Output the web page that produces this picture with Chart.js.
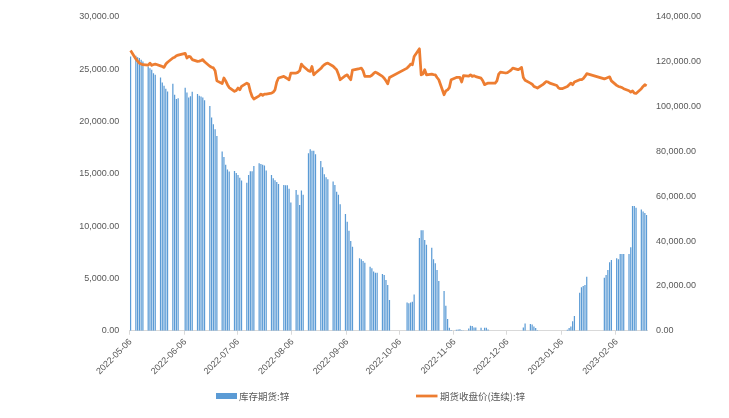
<!DOCTYPE html>
<html lang="zh">
<head>
<meta charset="UTF-8">
<title>库存期货:锌 / 期货收盘价(连续):锌</title>
<script src="https://cdn.jsdelivr.net/npm/chart.js"></script>
<style>
  body { margin: 0; background: #fff; }
  #wrap { width: 729px; height: 418px; position: relative; }
</style>
</head>
<body>
<div id="wrap"><canvas id="chart"></canvas></div>
<script>
// trading days (one week per line)
const dates = [
  '2022-05-06',
  '2022-05-09','2022-05-10','2022-05-11','2022-05-12','2022-05-13',
  '2022-05-16','2022-05-17','2022-05-18','2022-05-19','2022-05-20',
  '2022-05-23','2022-05-24','2022-05-25','2022-05-26','2022-05-27',
  '2022-05-30','2022-05-31','2022-06-01','2022-06-02',
  '2022-06-06','2022-06-07','2022-06-08','2022-06-09','2022-06-10',
  '2022-06-13','2022-06-14','2022-06-15','2022-06-16','2022-06-17',
  '2022-06-20','2022-06-21','2022-06-22','2022-06-23','2022-06-24',
  '2022-06-27','2022-06-28','2022-06-29','2022-06-30','2022-07-01',
  '2022-07-04','2022-07-05','2022-07-06','2022-07-07','2022-07-08',
  '2022-07-11','2022-07-12','2022-07-13','2022-07-14','2022-07-15',
  '2022-07-18','2022-07-19','2022-07-20','2022-07-21','2022-07-22',
  '2022-07-25','2022-07-26','2022-07-27','2022-07-28','2022-07-29',
  '2022-08-01','2022-08-02','2022-08-03','2022-08-04','2022-08-05',
  '2022-08-08','2022-08-09','2022-08-10','2022-08-11','2022-08-12',
  '2022-08-15','2022-08-16','2022-08-17','2022-08-18','2022-08-19',
  '2022-08-22','2022-08-23','2022-08-24','2022-08-25','2022-08-26',
  '2022-08-29','2022-08-30','2022-08-31','2022-09-01','2022-09-02',
  '2022-09-05','2022-09-06','2022-09-07','2022-09-08','2022-09-09',
  '2022-09-13','2022-09-14','2022-09-15','2022-09-16',
  '2022-09-19','2022-09-20','2022-09-21','2022-09-22','2022-09-23',
  '2022-09-26','2022-09-27','2022-09-28','2022-09-29','2022-09-30',
  '2022-10-10','2022-10-11','2022-10-12','2022-10-13','2022-10-14',
  '2022-10-17','2022-10-18','2022-10-19','2022-10-20','2022-10-21',
  '2022-10-24','2022-10-25','2022-10-26','2022-10-27','2022-10-28',
  '2022-10-31','2022-11-01','2022-11-02','2022-11-03','2022-11-04',
  '2022-11-07','2022-11-08','2022-11-09','2022-11-10','2022-11-11',
  '2022-11-14','2022-11-15','2022-11-16','2022-11-17','2022-11-18',
  '2022-11-21','2022-11-22','2022-11-23','2022-11-24','2022-11-25',
  '2022-11-28','2022-11-29','2022-11-30','2022-12-01','2022-12-02',
  '2022-12-05','2022-12-06','2022-12-07','2022-12-08','2022-12-09',
  '2022-12-12','2022-12-13','2022-12-14','2022-12-15','2022-12-16',
  '2022-12-19','2022-12-20','2022-12-21','2022-12-22','2022-12-23',
  '2022-12-26','2022-12-27','2022-12-28','2022-12-29','2022-12-30',
  '2023-01-03','2023-01-04','2023-01-05','2023-01-06',
  '2023-01-09','2023-01-10','2023-01-11','2023-01-12','2023-01-13',
  '2023-01-16','2023-01-17','2023-01-18','2023-01-19','2023-01-20',
  '2023-01-30','2023-01-31','2023-02-01','2023-02-02','2023-02-03',
  '2023-02-06','2023-02-07','2023-02-08','2023-02-09','2023-02-10',
  '2023-02-13','2023-02-14','2023-02-15','2023-02-16','2023-02-17',
  '2023-02-20','2023-02-21','2023-02-22','2023-02-23'
];

// 库存期货:锌 (left axis)
const stock = [
  26220,
  26290, 26150, 26070, 25900, 25740,
  25260, 25100, 24950, 24630, 24470,
  24210, 23730, 23420, 23130, 22870,
  23610, 22560, 22150, 22240,
  23230, 22780, 22300, 22420, 22840,
  22630, 22460, 22390, 22310, 22030,
  21500, 20380, 19750, 19270, 18630,
  17130, 16620, 15860, 15420, 15220,
  15270, 15090, 14900, 14630, 14370,
  14160, 14900, 15250, 15250, 15760,
  16020, 15950, 15860, 15790, 15310,
  14900, 14580, 14390, 14210, 14020,
  13940, 13900, 13900, 13580, 12250,
  13460, 12990, 12030, 13400, 12990,
  16980, 17360, 17200, 17200, 16880,
  16240, 15640, 14970, 14680, 14490,
  14260, 13940, 13300, 12990, 12100,
  11170, 10430, 9570, 8580, 8040,
  6930, 6830, 6670, 6510,
  6120, 5970, 5650, 5550, 5550,
  5430, 5330, 4850, 4370, 2930,
  2700, 2620, 2700, 2780, 3450,
  8870, 9600, 9600, 8680, 8230,
  7940, 6830, 6450, 5810, 4760,
  3800, 2390, 1120, 290, 70,
  100, 120, 130, 50, 30,
  200, 480, 450, 300, 300,
  280, 50, 280, 280, 120,
  0, 0, 0, 0, 0,
  0, 0, 0, 0, 0,
  0, 0, 0, 300, 700,
  650, 600, 400, 250, 50,
  0, 0, 0, 0, 0,
  0, 0, 0, 0,
  100, 250, 400, 900, 1400,
  3640, 4150, 4280, 4370, 5170,
  5070, 5330, 5810, 6550, 6770,
  6930, 6830, 7340, 7340, 7340,
  7340, 7980, 11930, 11930, 11770,
  11580, 11390, 11260, 11070
];

// 期货收盘价(连续):锌 (right axis)
const price = [
  125000,
  121300, 120300, 119400, 119000, 118700,
  118500, 119400, 118400, 118800, 119000,
  118200, 117900, 117500, 119000, 119800,
  121700, 122000, 122700, 123000,
  123800, 121700, 122400, 122200, 121000,
  120200, 120300, 120600, 121000, 120000,
  118000, 117600, 117300, 116000, 111500,
  110300, 112800, 111500, 109800, 108500,
  106800, 107200, 108300, 107500, 109000,
  110500, 110000, 106800, 104500, 103400,
  104800, 105600, 105000, 105600, 105600,
  106000, 106500, 107500, 111000, 112800,
  113500, 113000, 112500, 112000, 115000,
  115000, 115300, 116000, 119000, 118000,
  116000, 115700, 117900, 114200, 115000,
  117000, 118000, 118700, 119200, 119400,
  118000, 117200, 116500, 114500, 112000,
  113800, 114200, 113000, 112000, 116300,
  117000, 117200, 116000, 113500,
  113500, 114000, 114800, 115400, 115000,
  113500, 112700, 111500, 110200, 113000,
  117200, 118000, 119000, 118700, 122400,
  125800, 114200, 114600, 116500, 114200,
  114500, 114300, 114200, 113000, 112000,
  105300, 107000, 107500, 108500, 112000,
  113000, 113000, 113000, 111000, 113800,
  113600, 114200, 113500, 113800, 113400,
  112700, 111500, 109800, 110200, 110500,
  110500, 110500, 111500, 114500, 115400,
  115000, 115200, 115700, 116300, 117200,
  116500, 116900, 117500, 113000, 111800,
  110500, 110000, 109000, 108700, 108300,
  109800, 110500, 111200, 111000, 110500,
  109400, 108300, 108000, 108000,
  109000, 109800, 110500, 109800, 111000,
  112000, 112000, 112500, 113500, 114700,
  112400, 112700, 113000, 113300, 111500,
  109500, 109000, 108800, 108500, 108000,
  107100, 106500, 107000, 106000, 105900,
  108000, 109000, 109800, 109300
];

const leftTicks = [0, 30000, 5000];     // min, max, step
const rightTicks = [0, 140000, 20000];

const barColor = '#5B9BD5';
const lineColor = '#ED7D31';
const textColor = '#595959';
const axisColor = '#D9D9D9';

// calendar axis: every day from first to last trading day
const days = [];
for (let t = Date.parse(dates[0]); t <= Date.parse(dates[dates.length - 1]); t += 86400000) {
  days.push(new Date(t).toISOString().slice(0, 10));
}
const isMonthTick = i => typeof days[i] === 'string' && days[i].endsWith('-06');
const fmt = v => Number(v).toLocaleString('en-US', { minimumFractionDigits: 2, maximumFractionDigits: 2 });

Chart.defaults.font.family = '"Liberation Sans", Arial, sans-serif';
Chart.defaults.font.size = 9;
Chart.defaults.color = textColor;

const bottomLegend = {
  id: 'bottomLegend',
  afterDraw(chart) {
    const c = chart.ctx;
    const y = 396;
    c.save();
    c.font = '9.5px "Noto Sans CJK SC", sans-serif';
    c.textBaseline = 'middle';
    c.fillStyle = barColor;
    c.fillRect(216, y - 3, 21, 6);
    c.fillStyle = textColor;
    c.fillText(chart.data.datasets[1].label, 239, y);
    c.strokeStyle = lineColor;
    c.lineWidth = 2.75;
    c.beginPath();
    c.moveTo(416, y);
    c.lineTo(437.5, y);
    c.stroke();
    c.fillText(chart.data.datasets[0].label, 440, y);
    c.restore();
  }
};

new Chart(document.getElementById('chart'), {
  data: {
    labels: days,
    datasets: [
      {
        type: 'line',
        label: '期货收盘价(连续):锌',
        data: dates.map((d, i) => ({ x: d, y: price[i] })),
        yAxisID: 'y2',
        borderColor: lineColor,
        borderWidth: 2.75,
        borderJoinStyle: 'round',
        pointRadius: 0,
        tension: 0,
        order: 0
      },
      {
        type: 'bar',
        label: '库存期货:锌',
        data: dates.map((d, i) => ({ x: d, y: stock[i] })),
        yAxisID: 'y',
        backgroundColor: barColor,
        categoryPercentage: 1,
        barPercentage: 0.7,
        order: 1
      }
    ]
  },
  options: {
    responsive: true,
    maintainAspectRatio: false,
    animation: false,
    layout: { padding: { top: 17, right: 0, bottom: 0, left: 0 } },
    plugins: { legend: { display: false }, tooltip: { enabled: false } },
    scales: {
      x: {
        type: 'category',
        offset: true,
        grid: {
          offset: true,
          drawOnChartArea: false,
          drawTicks: true,
          tickLength: 4,
          color: ctx => isMonthTick(ctx.index) ? axisColor : 'rgba(0,0,0,0)',
          tickColor: ctx => isMonthTick(ctx.index) ? axisColor : 'rgba(0,0,0,0)'
        },
        border: { color: axisColor, width: 1 },
        ticks: {
          autoSkip: false,
          maxRotation: 45,
          minRotation: 45,
          padding: 2,
          callback: (v, i) => isMonthTick(i) ? days[i] : ''
        },
        afterFit: s => { s.height = 87.3; }
      },
      y: {
        position: 'left',
        min: leftTicks[0],
        max: leftTicks[1],
        ticks: { stepSize: leftTicks[2], padding: 10.5, callback: fmt },
        grid: { display: false, drawTicks: false },
        border: { display: false },
        afterFit: s => { s.width = 129.7; }
      },
      y2: {
        position: 'right',
        min: rightTicks[0],
        max: rightTicks[1],
        ticks: { stepSize: rightTicks[2], padding: 8.5, callback: fmt },
        grid: { display: false, drawTicks: false },
        border: { display: false },
        afterFit: s => { s.width = 81.5; }
      }
    }
  },
  plugins: [bottomLegend]
});
</script>
</body>
</html>
